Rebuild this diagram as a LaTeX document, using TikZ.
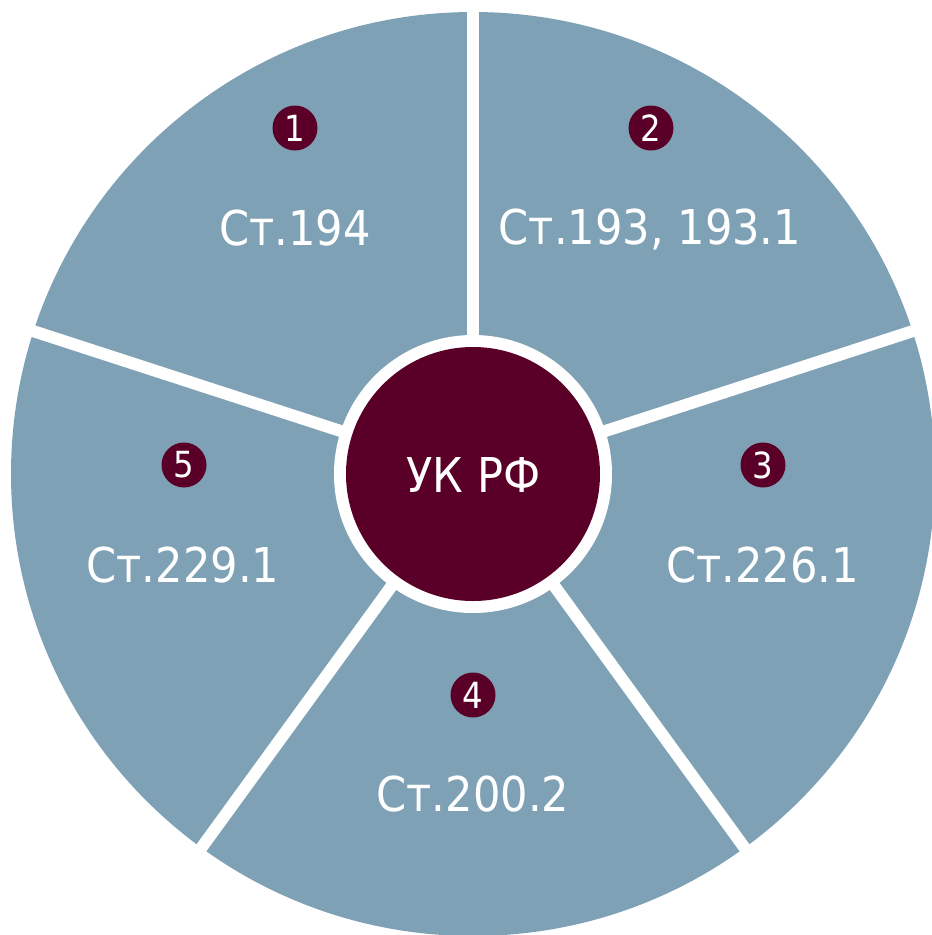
\documentclass[tikz,border=0pt]{standalone}
\usepackage{fontspec}
\setmainfont{DejaVu Sans Condensed}
\definecolor{seg}{HTML}{7FA1B6}
\definecolor{wine}{HTML}{5A0028}
\begin{document}
\begin{tikzpicture}[x=1pt,y=-1pt,
  badge/.style={circle,fill=wine,text=white,minimum size=45pt,inner sep=0pt,font=\fontsize{36}{36}\selectfont},
  lab/.style={text=white,anchor=base,inner sep=0pt,font=\fontsize{48}{48}\selectfont},
  spoke/.style={white,line width=12pt}]
\useasboundingbox (0,0) rectangle (932,935);
\clip (0,0) rectangle (932,935);
\coordinate (c) at (473,474);
\fill[seg] (c) circle[radius=462];
\foreach \a in {-90,-18,54,126,-162} \draw[spoke] (c) -- ++(\a:520);
\fill[white] (c) circle[radius=139];
\node[circle,fill=wine,minimum size=254pt,inner sep=0pt] (uk) at (c) {};
\node[lab] (ukt) at (473.5,492) {УК РФ};
\node[badge] (b1) at (295,128) {1};
\node[badge] (b2) at (651,128) {2};
\node[badge] (b3) at (763,465) {3};
\node[badge] (b4) at (473,695) {4};
\node[badge] (b5) at (184,465) {5};
\node[lab] (l1) at (295,245) {Ст.194};
\node[lab] (l2) at (650,244) {Ст.193, 193.1};
\node[lab] (l3) at (762.5,582) {Ст.226.1};
\node[lab] (l4) at (473,811) {Ст.200.2};
\node[lab] (l5) at (183,582) {Ст.229.1};
\end{tikzpicture}
\end{document}
